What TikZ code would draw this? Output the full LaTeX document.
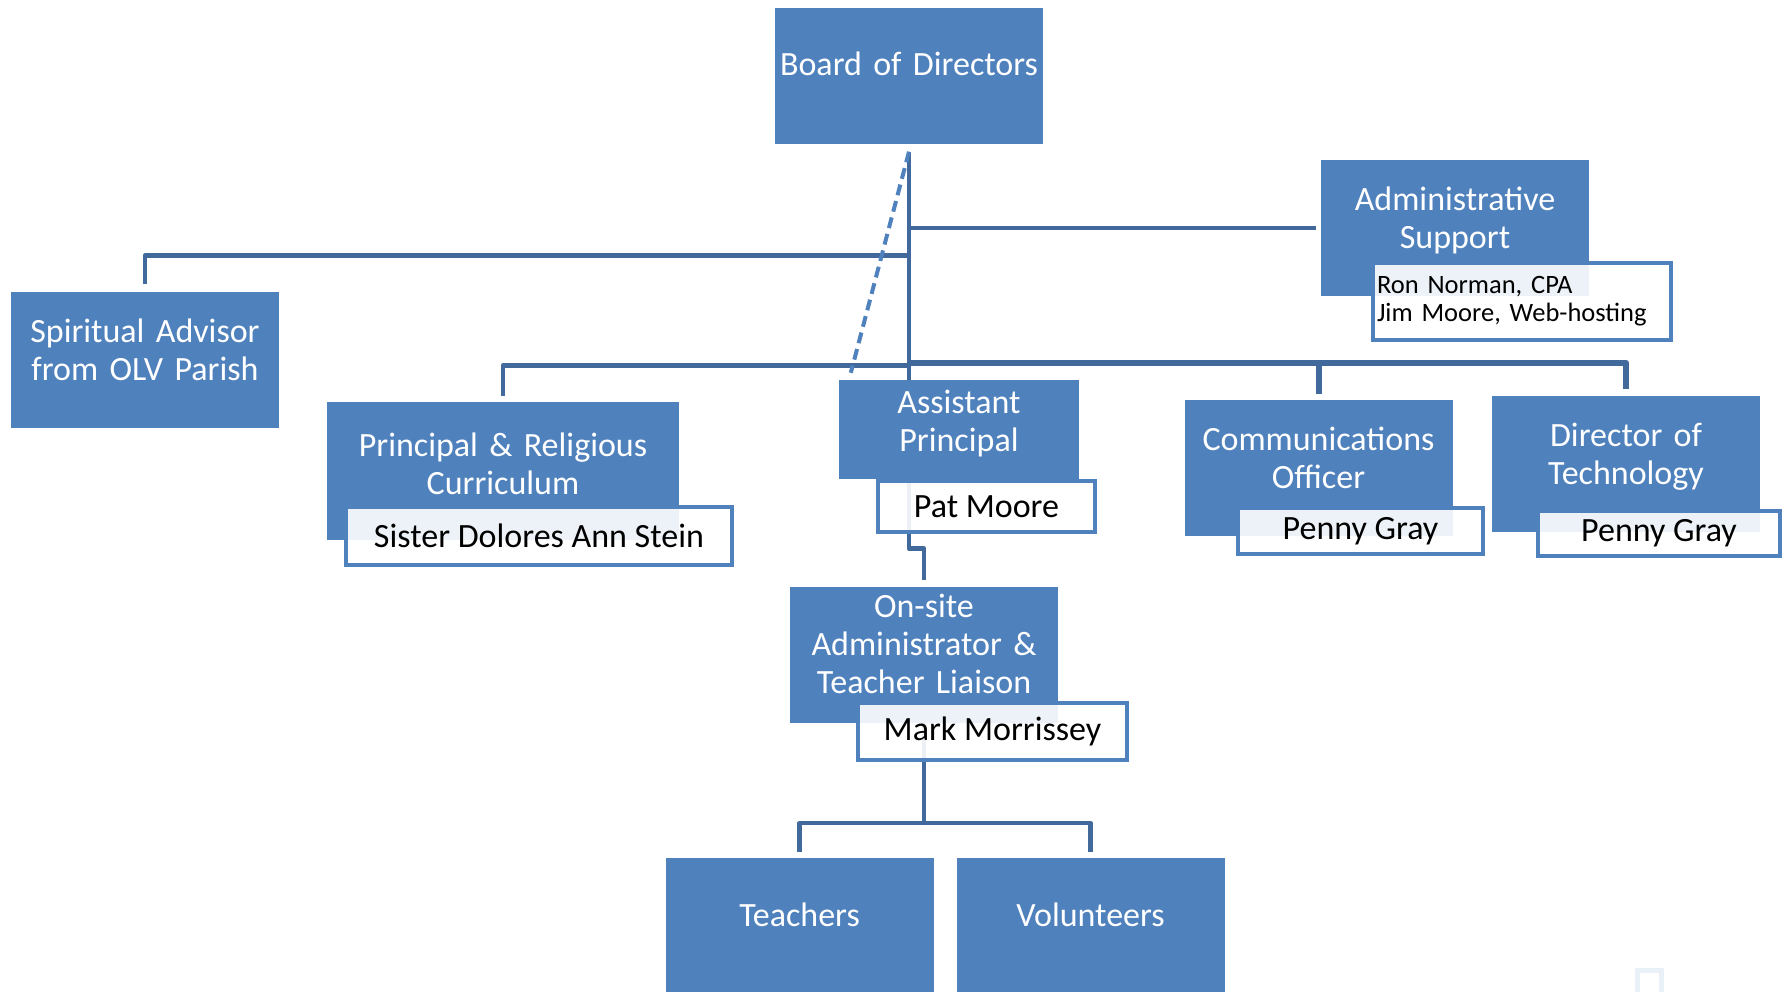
\documentclass[tikz,border=0pt]{standalone}
\usepackage{fontspec}
\setmainfont{Carlito}
\usetikzlibrary{backgrounds}
\definecolor{boxblue}{RGB}{79,129,189}
\definecolor{linkblue}{RGB}{65,105,155}

\begin{document}
\begin{tikzpicture}[x=1pt, y=-1pt,
    block/.style={rectangle, fill=boxblue, text=white, minimum width=268pt, minimum height=136pt, text width=264pt, align=center, inner sep=0pt, text height=0pt, text depth=0pt, font=\fontsize{34}{38}\selectfont},
    namebox/.style={rectangle, draw=boxblue, line width=4pt, fill=white, fill opacity=0.9, text opacity=1, text=black, inner sep=0pt, font=\fontsize{34}{38}\selectfont},
    link/.style={draw=linkblue, line width=4.5pt, line join=round},
    dashlink/.style={draw=boxblue, line width=4pt, dash pattern=on 11pt off 6pt}
]
    \useasboundingbox (0,0) rectangle (1784,991);

    % Top layer
    \node[block] (board) at (909,75.5) {Board of Directors};
    \node[block, text depth=36pt] (admin) at (1455,228) {Administrative\\Support};
    \node[namebox, minimum width=298pt, minimum height=77pt, text width=290pt, align=left, font=\fontsize{26.5}{28}\selectfont] (adminnames) at (1522,301.5) {Ron Norman, CPA\\Jim Moore, Web-hosting};
    \node[block, text depth=36pt] (spirit) at (145,360) {Spiritual Advisor\\from OLV Parish};

    % Middle layer
    \node[block, minimum width=352pt, minimum height=138pt, text width=330pt, text depth=30pt] (principal) at (503,471) {Principal \& Religious\\Curriculum};
    \node[namebox, minimum width=386pt, minimum height=58pt] (sister) at (539,536) {Sister Dolores Ann Stein};
    \node[block, minimum width=240pt, minimum height=99pt, text width=230pt, text depth=33pt] (asst) at (959,429.5) {Assistant\\Principal};
    \node[namebox, minimum width=217pt, minimum height=51pt] (pat) at (986.5,506.5) {Pat Moore};
    \node[block, text depth=35pt] (comms) at (1318.5,467.5) {Communications\\Officer};
    \node[namebox, minimum width=245pt, minimum height=46pt] (penny) at (1360.5,531) {Penny Gray};
    \node[block, text depth=36pt] (tech) at (1626,464) {Director of\\Technology};
    \node[namebox, minimum width=242pt, minimum height=45pt] (pennytech) at (1659,533.5) {Penny Gray};

    % Lower layer
    \node[block, text depth=76pt] (onsite) at (924,655) {On-site\\Administrator \&\\Teacher Liaison};
    \node[namebox, minimum width=269pt, minimum height=57pt] (mark) at (992.5,731.5) {Mark Morrissey};
    \node[block] (teachers) at (799.5,926) {Teachers};
    \node[block] (volunteers) at (1090.5,926) {Volunteers};
    \node[draw=boxblue!12, line width=5pt, minimum width=24pt, minimum height=26pt, inner sep=0pt] (stray) at (1649,983) {};

    % Connectors behind the boxes
    \begin{scope}[on background layer]
        \draw[link, shorten <=8pt, shorten >=7pt] (board.south) -- ++(0,405) -| (onsite.north);
        \draw[link, shorten >=5pt] (board.south |- admin.west) -- (admin.west);
        \draw[link, shorten >=8pt] ([yshift=-112pt]board.south) -| (spirit.north);
        \draw[link, shorten >=6pt] ([yshift=-222pt]board.south) -| (principal.north);
        \draw[link, line width=6pt, shorten >=5pt] ([yshift=-219pt]board.south) -| (comms.north);
        \draw[link, line width=6pt, shorten >=7pt] ([yshift=-219pt]board.south) -| (tech.north);
        \draw[link, shorten >=6pt] (onsite.south) -- ++(0,100) -| (teachers.north);
        \draw[link, shorten >=6pt] (onsite.south) -- ++(0,100) -| (volunteers.north);
    \end{scope}

    % Dashed line to the assistant principal
    \draw[dashlink] ([yshift=-8pt]board.south) -- ([xshift=12pt,yshift=7pt]asst.north west);
\end{tikzpicture}
\end{document}
